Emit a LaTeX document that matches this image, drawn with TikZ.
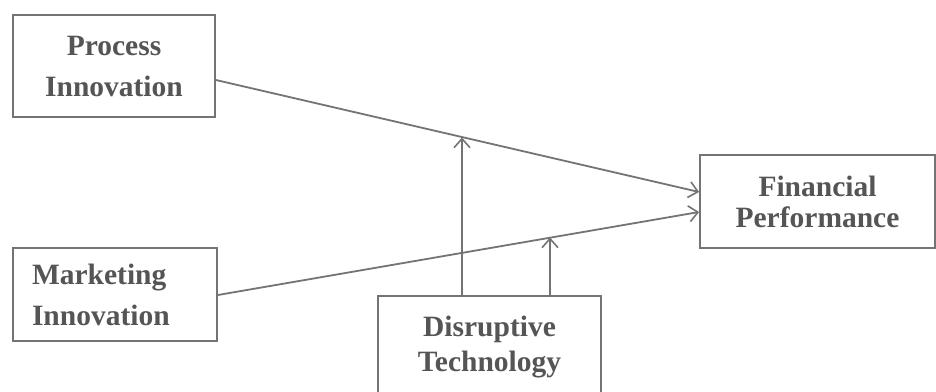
\documentclass[tikz,border=0pt]{standalone}
\usepackage{fontspec}
\setmainfont{Liberation Serif}
\usetikzlibrary{arrows.meta}
\definecolor{linegray}{HTML}{747474}
\definecolor{textgray}{HTML}{555555}
\tikzset{
  box/.style={draw=linegray, line width=1.8pt, rectangle, inner sep=0pt,
    text=textgray, font=\bfseries\fontsize{29.5}{41}\selectfont, align=center},
  conn/.style={draw=linegray, line width=1.8pt,
    -{Straight Barb[length=9pt,width=16pt,line width=1.6pt]}}
}
\begin{document}
\begin{tikzpicture}[x=1pt,y=-1pt]
\useasboundingbox (0,0) rectangle (936,391);
\clip (0,0) rectangle (936,391);
\fill[white] (0,0) rectangle (936,391);
\node[box, minimum width=202pt, minimum height=102pt] (pi) at (114,66)
  {Process\\Innovation};
\node[box, minimum width=204pt, minimum height=93pt, text width=166pt, align=left] (mi) at (115,294.5)
  {Marketing\\Innovation};
\node[box, minimum width=223pt, minimum height=110pt, font=\bfseries\fontsize{29.5}{35}\selectfont] (dt) at (489.5,351)
  {Disruptive\\Technology\rule[-14pt]{0pt}{0pt}};
\node[box, minimum width=235pt, minimum height=93pt, font=\bfseries\fontsize{29.5}{31}\selectfont] (fp) at (817.5,201.5)
  {Financial\\Performance};
\coordinate (p1) at (215,80);
\coordinate (f1) at (700,192);
\coordinate (p2) at (217,295);
\coordinate (f2) at (700,212);
\coordinate (m1) at (462,137.5);
\coordinate (m2) at (550,237.5);
\draw[conn] (pi.east |- p1) -- (fp.west |- f1);
\draw[conn] (mi.east |- p2) -- (fp.west |- f2);
\draw[conn] (dt.north -| m1) -- (m1);
\draw[conn] (dt.north -| m2) -- (m2);
\end{tikzpicture}
\end{document}
